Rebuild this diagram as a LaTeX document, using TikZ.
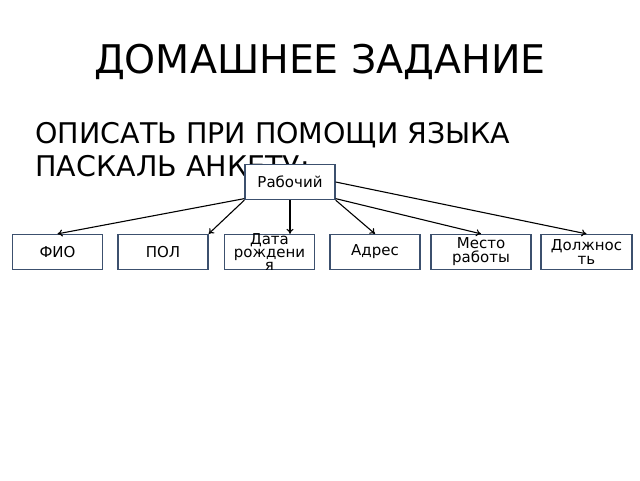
\documentclass[tikz,border=0pt]{standalone}
\usepackage{fontspec}
\setmainfont{DejaVu Sans}
\usetikzlibrary{arrows.meta,positioning}
\definecolor{boxline}{RGB}{60,80,110}
\tikzset{fieldbox/.style={draw=boxline,fill=white,line width=1.3pt,minimum width=90pt,minimum height=35pt,
  inner sep=1pt,align=center,font=\fontsize{15}{14}\selectfont},
  link/.style={-{To[length=5pt,width=7pt]},line width=1.1pt}}
\begin{document}
\begin{tikzpicture}[x=1pt,y=-1pt]
\useasboundingbox (0,0) rectangle (640,480);
\node[font=\fontsize{39.5}{40}\selectfont] (title) at (320,62) {ДОМАШНЕЕ ЗАДАНИЕ};
\node[anchor=north west,align=left,font=\fontsize{28.5}{33}\selectfont] (task) at (32,119)
  {ОПИСАТЬ ПРИ ПОМОЩИ ЯЗЫКА\\ПАСКАЛЬ АНКЕТУ:};

\node[fieldbox] (worker) at (290,182) {Рабочий};
\node[fieldbox] (fio) at (57.5,252) {ФИО};
\node[fieldbox] (sex) at (163,252) {ПОЛ};
\node[fieldbox,minimum height=35pt,text height=6pt,text depth=0pt,font=\fontsize{15}{13}\selectfont] (birth) at (269.5,252) {};
\node[align=center,font=\fontsize{15}{13}\selectfont,inner sep=0pt] (birthtext) at (birth.center) {Дата\\рождени\\я};
\node[fieldbox] (addr) at (375,252) {Адрес};
\node[fieldbox,minimum width=100pt] (job) at (481,252) {Место\\работы};
\node[fieldbox,minimum width=91pt] (post) at (586.5,252) {Должнос\\ть};

% связи
\draw[link] (worker.200) -- (fio.north);
\draw[link] (worker.south west) -- (sex.north east);
\draw[link] (worker.south) -- (worker.south |- birth.north);
\draw[link] (worker.south east) -- (addr.north);
\draw[link] (worker.340) -- (job.north);
\draw[link] (worker.east) -- (post.north);
\end{tikzpicture}
\end{document}
